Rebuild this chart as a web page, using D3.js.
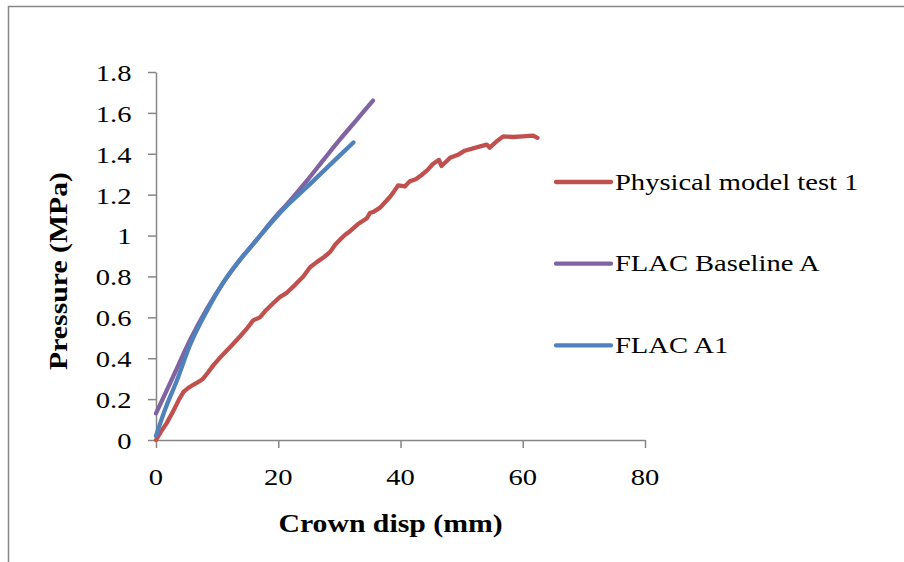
<!DOCTYPE html>
<html>
<head>
<meta charset="utf-8">
<script src="https://cdn.jsdelivr.net/npm/d3@7"></script>
<style>
  html, body { margin: 0; padding: 0; background: #fff; }
  svg { display: block; }
</style>
</head>
<body>
<div id="chart"></div>
<script>
// values
var physicalDisp = [0, 0.8, 1.7, 2.8, 3.8, 4.5, 5.3, 6.1, 7.0, 7.7, 8.5, 9.5, 11.0, 12.3, 13.7, 15.0, 15.9, 17.0, 18.0, 19.2,
  20.3, 21.4, 22.8, 24.1, 25.2, 26.3, 27.5, 28.5, 29.3, 30.1, 31.0, 31.7, 33.0, 34.5, 35.0, 35.5, 36.6, 37.7, 38.3, 38.8,
  39.6, 40.7, 41.5, 42.5, 43.4, 44.4, 45.3, 46.3, 46.7, 47.4, 48.1, 49.4, 50.5, 52.3, 54.1, 54.6, 55.7, 56.8, 58.4, 60.0,
  61.7, 62.4];
var physicalPressure = [0, 0.04, 0.08, 0.14, 0.2, 0.235, 0.255, 0.27, 0.285, 0.3, 0.33, 0.37, 0.42, 0.46, 0.505, 0.55, 0.585, 0.6, 0.635, 0.67,
  0.7, 0.72, 0.76, 0.8, 0.845, 0.87, 0.895, 0.92, 0.955, 0.98, 1.005, 1.02, 1.055, 1.085, 1.11, 1.115, 1.135, 1.17, 1.19, 1.21,
  1.245, 1.24, 1.265, 1.275, 1.295, 1.32, 1.35, 1.37, 1.34, 1.36, 1.38, 1.395, 1.415, 1.43, 1.445, 1.43, 1.46, 1.485, 1.482, 1.485,
  1.489, 1.478];

var baselineDisp = [0, 2.8, 5.6, 8.3, 11.0, 13.7, 16.5, 19.2, 21.9, 24.6, 27.4, 30.1, 32.8, 35.5];
var baselinePressure = [0.13, 0.31, 0.49, 0.64, 0.77, 0.88, 0.98, 1.08, 1.17, 1.265, 1.37, 1.47, 1.565, 1.66];

var a1Disp = [0, 1.5, 3.4, 5.5, 8.3, 11.0, 13.7, 16.5, 19.2, 21.9, 24.6, 27.9, 30.0, 32.3];
var a1Pressure = [0.02, 0.15, 0.29, 0.46, 0.63, 0.77, 0.88, 0.98, 1.075, 1.16, 1.235, 1.33, 1.39, 1.455];

var seriesNames = ['Physical model test 1', 'FLAC Baseline A', 'FLAC A1'];
var seriesColors = ['#c0504d', '#8064a2', '#4f81bd'];

var xTicks = [0, 20, 40, 60, 80];
var yTicks = [0, 0.2, 0.4, 0.6, 0.8, 1, 1.2, 1.4, 1.6, 1.8];

var xTitle = 'Crown disp (mm)';
var yTitle = 'Pressure (MPa)';

(function () {
  var width = 904;
  var height = 562;
  var margin = { top: 72, right: 259, bottom: 122, left: 156 };
  var axisColor = '#868686';
  var fontFamily = '"Liberation Serif", "Times New Roman", serif';
  // the source text is a bit wider than Times, so stretch it along the baseline
  var stretch = 1.19;

  var svg = d3.select('#chart').append('svg')
      .attr('width', width)
      .attr('height', height);

  // outer frame of the chart object (only top and left edges are visible)
  svg.append('rect')
      .attr('x', 8.5)
      .attr('y', 6.5)
      .attr('width', width + 20)
      .attr('height', height + 20)
      .attr('fill', 'none')
      .attr('stroke', axisColor)
      .attr('stroke-width', 1.5);

  var xScale = d3.scaleLinear().domain([0, 80]).range([margin.left, width - margin.right]);
  var yScale = d3.scaleLinear().domain([0, 1.8]).range([height - margin.bottom, margin.top]);

  var plotBottom = yScale(0);

  var addText = function (parent, str, x, y, opts) {
    opts = opts || {};
    var t = 'translate(' + x + ',' + y + ')';
    if (opts.rotate) {
      t += ' rotate(' + opts.rotate + ')';
    }
    t += ' scale(' + stretch + ',1)';

    return parent.append('text')
        .attr('transform', t)
        .attr('text-anchor', opts.anchor || 'start')
        .attr('dy', opts.dy || null)
        .attr('font-family', fontFamily)
        .attr('font-size', opts.size || 24)
        .attr('font-weight', opts.bold ? 'bold' : 'normal')
        .attr('fill', '#000')
        .text(str);
  };

  // axes
  var xAxis = d3.axisBottom(xScale).tickValues(xTicks).tickSize(8).tickSizeOuter(0).tickFormat('');
  var yAxis = d3.axisLeft(yScale).tickValues(yTicks).tickSize(8).tickSizeOuter(0).tickFormat('');

  var gx = svg.append('g')
      .attr('transform', 'translate(0,' + plotBottom + ')')
      .call(xAxis);
  var gy = svg.append('g')
      .attr('transform', 'translate(' + margin.left + ',0)')
      .call(yAxis);

  [gx, gy].forEach(function (g) {
    g.select('.domain').attr('stroke', axisColor).attr('stroke-width', 1.5);
    g.selectAll('.tick line').attr('stroke', axisColor).attr('stroke-width', 1.5);
  });

  var labels = svg.append('g');
  xTicks.forEach(function (v) {
    addText(labels, d3.format('')(v), xScale(v), plotBottom + 45, { anchor: 'middle' });
  });
  yTicks.forEach(function (v) {
    addText(labels, d3.format('')(v), margin.left - 24.5, yScale(v), { anchor: 'end', dy: '0.37em' });
  });

  // axis titles
  addText(labels, xTitle, (xScale(0) + xScale(80)) / 2 - 10, 532, { anchor: 'middle', size: 25, bold: true });
  addText(labels, yTitle, 67, 271, { anchor: 'middle', size: 25, bold: true, rotate: -90 });

  // series
  var seriesData = [
    { name: seriesNames[0], color: seriesColors[0], curve: d3.curveLinear, points: d3.zip(physicalDisp, physicalPressure) },
    { name: seriesNames[1], color: seriesColors[1], curve: d3.curveMonotoneX, points: d3.zip(baselineDisp, baselinePressure) },
    { name: seriesNames[2], color: seriesColors[2], curve: d3.curveMonotoneX, points: d3.zip(a1Disp, a1Pressure) }
  ];

  var lines = svg.append('g').attr('class', 'series');
  seriesData.forEach(function (s) {
    var line = d3.line()
        .x(function (d) { return xScale(d[0]); })
        .y(function (d) { return yScale(d[1]); })
        .curve(s.curve);

    lines.append('path')
        .datum(s.points)
        .attr('d', line)
        .attr('fill', 'none')
        .attr('stroke', s.color)
        .attr('stroke-width', 4.3)
        .attr('stroke-linecap', 'round')
        .attr('stroke-linejoin', 'round');
  });

  // legend
  var legend = svg.append('g').attr('transform', 'translate(556,182)');
  seriesData.forEach(function (s, i) {
    var row = legend.append('g').attr('transform', 'translate(0,' + (i * 81.7) + ')');
    row.append('line')
        .attr('x1', 0)
        .attr('x2', 55)
        .attr('y1', 0)
        .attr('y2', 0)
        .attr('stroke', s.color)
        .attr('stroke-width', 4.3)
        .attr('stroke-linecap', 'round');
    addText(row, s.name, 59, 7.5);
  });
})();
</script>
</body>
</html>
